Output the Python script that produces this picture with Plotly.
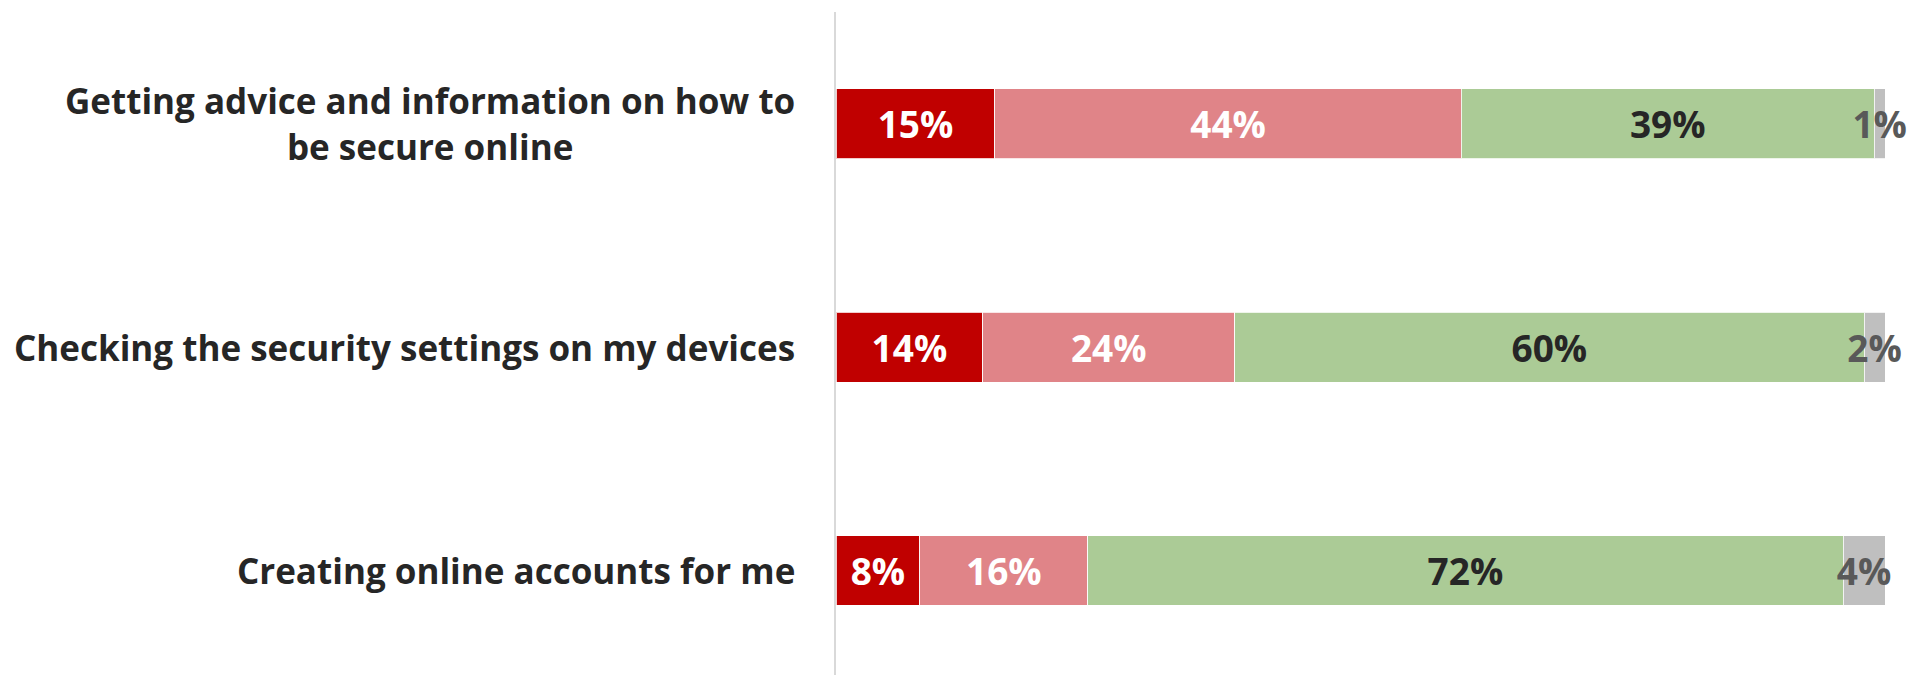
import plotly.graph_objects as go

categories = [
    "Getting advice and information on how to<br>be secure online",
    "Checking the security settings on my devices",
    "Creating online accounts for me",
]
series_names = ["A lot", "A little", "Not at all", "Don't know"]
values_red = [15, 14, 8]
values_pink = [44, 24, 16]
values_green = [39, 60, 72]
values_grey = [1, 2, 4]

series_values = [values_red, values_pink, values_green, values_grey]
colors = ["#C00000", "#E08488", "#ABCB96", "#BFBFBF"]
text_colors = ["#FFFFFF", "#FFFFFF", "#262626", "#595959"]

FONT = "Open Sans"
LABEL_SIZE = 37
CAT_SIZE = 35

fig = go.Figure()
for name, vals, col, tcol in zip(series_names, series_values, colors, text_colors):
    fig.add_trace(go.Bar(
        y=categories,
        x=vals,
        name=name,
        orientation="h",
        marker=dict(color=col, line=dict(color="rgba(255,255,255,0.8)", width=1)),
        text=[f"{v}%" for v in vals],
        textposition="inside",
        insidetextanchor="middle",
        textangle=0,
        constraintext="none",
        cliponaxis=False,
        textfont=dict(family=FONT, size=LABEL_SIZE, color=tcol, weight="bold"),
        hoverinfo="skip",
    ))

for cat in categories:
    fig.add_annotation(
        x=0, xref="x", y=cat, yref="y",
        text=cat, showarrow=False,
        xanchor="right", yanchor="middle", align="center",
        xshift=-39,
        font=dict(family=FONT, size=CAT_SIZE, color="#262626", weight="bold"),
    )

fig.update_layout(
    barmode="stack",
    barnorm="percent",
    bargap=0.687,
    width=1920,
    height=667,
    margin=dict(l=828, r=43, t=4, b=0),
    paper_bgcolor="white",
    plot_bgcolor="white",
    showlegend=False,
    xaxis=dict(range=[0, 100], visible=False, fixedrange=True),
    yaxis=dict(
        categoryorder="array",
        categoryarray=categories,
        range=[2.468, -0.5],
        showticklabels=False,
        showgrid=False,
        zeroline=False,
        showline=True,
        linecolor="#D9D9D9",
        linewidth=2,
        ticks="",
    ),
)

fig.write_html("out.html")
